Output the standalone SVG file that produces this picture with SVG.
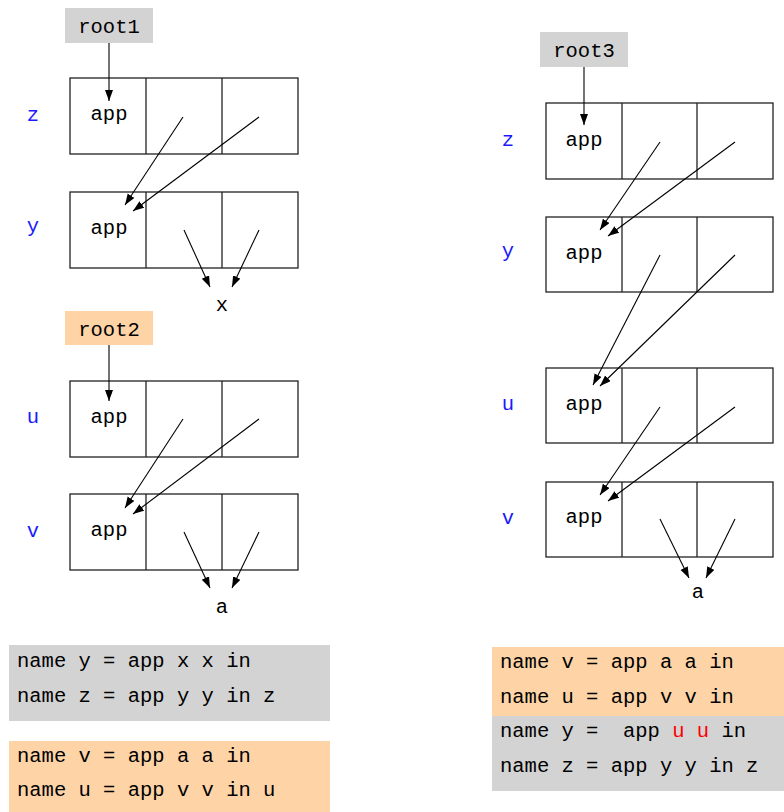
<svg xmlns="http://www.w3.org/2000/svg" width="784" height="812" viewBox="0 0 784 812">
<style>
text{font-family:"Liberation Mono","DejaVu Sans Mono",monospace;font-size:20.5px;fill:#000}
.lbl{fill:#1a1aff;text-anchor:middle}
.mid{text-anchor:middle}
.cell{fill:#fff;stroke:#222;stroke-width:1.3}
.gray{fill:#d3d3d3}
.org{fill:#fed4a7}
.red{fill:#ff0000}
#connectors line{stroke:#000;stroke-width:1.1;marker-end:url(#ah)}
</style>
<defs>
<marker id="ah" markerUnits="userSpaceOnUse" markerWidth="12" markerHeight="10" refX="11" refY="4" orient="auto">
<path d="M0,0 L11,4 L0,8 Z" fill="#000"/>
</marker>
</defs>
<rect width="784" height="812" fill="#fff"/>

<g id="root1"><rect class="gray" x="65" y="8" width="88" height="35"/><text class="mid" x="109" y="33">root1</text></g>
<g id="root2"><rect class="org" x="65" y="311" width="88" height="34"/><text class="mid" x="109" y="336">root2</text></g>
<g id="root3"><rect class="gray" x="540" y="32" width="88" height="35"/><text class="mid" x="584" y="57">root3</text></g>

<g id="L-z"><text class="lbl" x="33" y="121">z</text><rect class="cell" x="70" y="78" width="228" height="76"/><line class="cell" x1="146" y1="78" x2="146" y2="154"/><line class="cell" x1="222" y1="78" x2="222" y2="154"/><text class="mid" x="109" y="120">app</text></g>
<g id="L-y"><text class="lbl" x="33" y="232">y</text><rect class="cell" x="70" y="192" width="228" height="76"/><line class="cell" x1="146" y1="192" x2="146" y2="268"/><line class="cell" x1="222" y1="192" x2="222" y2="268"/><text class="mid" x="109" y="234">app</text></g>
<g id="L-x"><text class="mid" x="222" y="311">x</text></g>
<g id="L-u"><text class="lbl" x="33" y="423">u</text><rect class="cell" x="70" y="381" width="228" height="76"/><line class="cell" x1="146" y1="381" x2="146" y2="457"/><line class="cell" x1="222" y1="381" x2="222" y2="457"/><text class="mid" x="109" y="423">app</text></g>
<g id="L-v"><text class="lbl" x="33" y="537">v</text><rect class="cell" x="70" y="494" width="228" height="76"/><line class="cell" x1="146" y1="494" x2="146" y2="570"/><line class="cell" x1="222" y1="494" x2="222" y2="570"/><text class="mid" x="109" y="536">app</text></g>
<g id="L-a"><text class="mid" x="222" y="613">a</text></g>

<g id="R-z"><text class="lbl" x="508" y="146">z</text><rect class="cell" x="546" y="103" width="227" height="76"/><line class="cell" x1="622" y1="103" x2="622" y2="179"/><line class="cell" x1="697" y1="103" x2="697" y2="179"/><text class="mid" x="584" y="146">app</text></g>
<g id="R-y"><text class="lbl" x="508" y="257">y</text><rect class="cell" x="546" y="217" width="227" height="75"/><line class="cell" x1="622" y1="217" x2="622" y2="292"/><line class="cell" x1="697" y1="217" x2="697" y2="292"/><text class="mid" x="584" y="259">app</text></g>
<g id="R-u"><text class="lbl" x="508" y="410">u</text><rect class="cell" x="546" y="368" width="227" height="75"/><line class="cell" x1="622" y1="368" x2="622" y2="443"/><line class="cell" x1="697" y1="368" x2="697" y2="443"/><text class="mid" x="584" y="410">app</text></g>
<g id="R-v"><text class="lbl" x="508" y="524">v</text><rect class="cell" x="546" y="482" width="227" height="75"/><line class="cell" x1="622" y1="482" x2="622" y2="557"/><line class="cell" x1="697" y1="482" x2="697" y2="557"/><text class="mid" x="584" y="523">app</text></g>
<g id="R-a"><text class="mid" x="698" y="598">a</text></g>

<g id="connectors">
<line x1="109" y1="43" x2="109" y2="101"/>
<line x1="183" y1="117" x2="125" y2="205"/>
<line x1="259" y1="117" x2="133" y2="211"/>
<line x1="184" y1="230" x2="210" y2="287"/>
<line x1="259" y1="230" x2="232" y2="287"/>
<line x1="109" y1="345" x2="109" y2="401"/>
<line x1="183" y1="419" x2="125" y2="508"/>
<line x1="259" y1="419" x2="133" y2="514"/>
<line x1="184" y1="532" x2="210" y2="588"/>
<line x1="259" y1="532" x2="232" y2="588"/>
<line x1="584" y1="67" x2="584" y2="125"/>
<line x1="660" y1="142" x2="600" y2="230"/>
<line x1="735" y1="142" x2="608" y2="236"/>
<line x1="660" y1="255" x2="593" y2="385"/>
<line x1="735" y1="255" x2="600" y2="386"/>
<line x1="660" y1="407" x2="600" y2="495"/>
<line x1="735" y1="407" x2="608" y2="501"/>
<line x1="660" y1="519" x2="689" y2="578"/>
<line x1="735" y1="519" x2="706" y2="578"/>
</g>

<g id="code-left-1"><rect class="gray" x="9" y="645" width="321" height="76"/>
<text x="17" y="667" xml:space="preserve">name y = app x x in</text>
<text x="17" y="702" xml:space="preserve">name z = app y y in z</text></g>
<g id="code-left-2"><rect class="org" x="9" y="741" width="321" height="71"/>
<text x="17" y="762" xml:space="preserve">name v = app a a in</text>
<text x="17" y="796" xml:space="preserve">name u = app v v in u</text></g>
<g id="code-right"><rect class="org" x="492" y="647" width="292" height="69"/><rect class="gray" x="492" y="716" width="292" height="75"/>
<text x="500" y="668" xml:space="preserve">name v = app a a in</text>
<text x="500" y="703" xml:space="preserve">name u = app v v in</text>
<text x="500" y="737" xml:space="preserve">name y =  app <tspan class="red">u</tspan> <tspan class="red">u</tspan> in</text>
<text x="500" y="772" xml:space="preserve">name z = app y y in z</text></g>
</svg>
